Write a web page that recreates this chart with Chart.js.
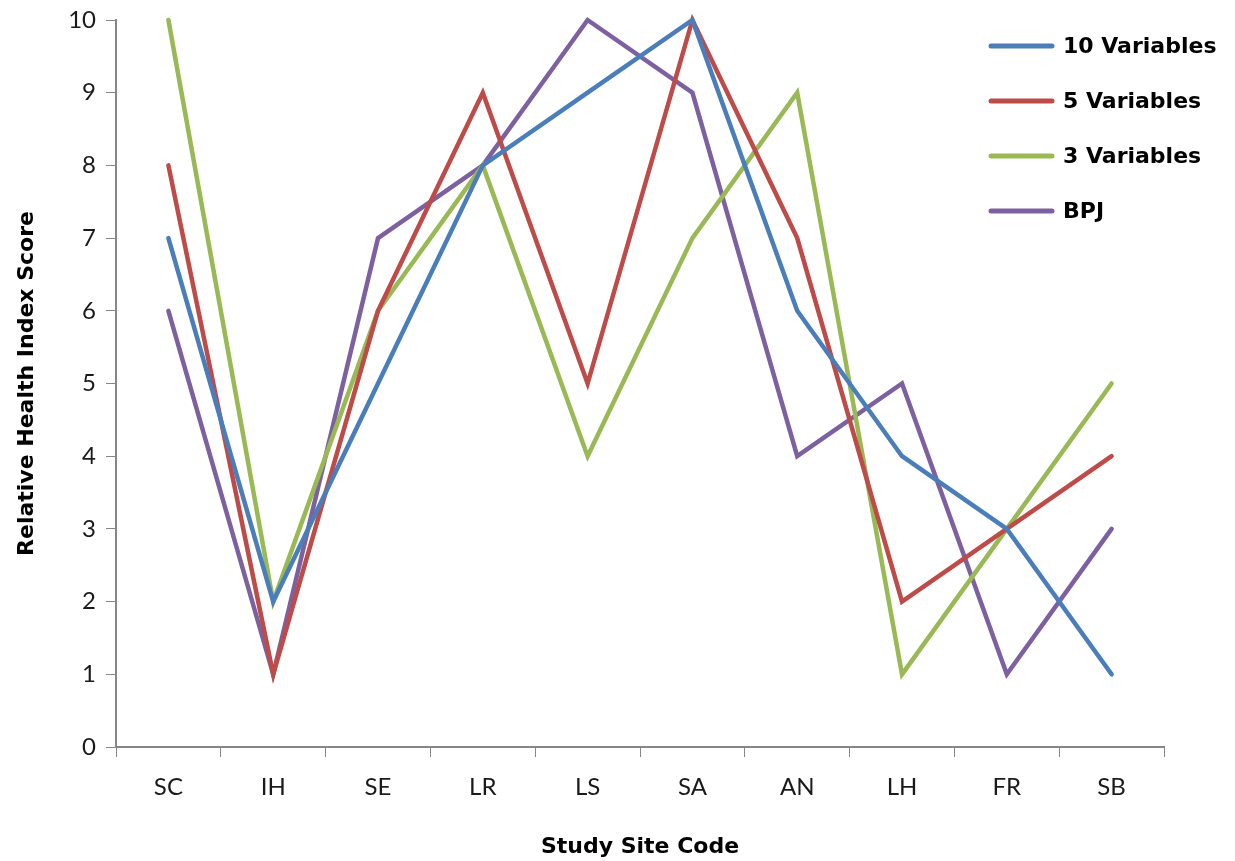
<!DOCTYPE html>
<html>
<head>
<meta charset="utf-8">
<script src="https://cdn.jsdelivr.net/npm/chart.js@4/dist/chart.umd.min.js"></script>
<style>
  html, body { margin: 0; padding: 0; background: #fff; }
  #wrap { width: 1235px; height: 861px; }
</style>
</head>
<body>
<div id="wrap"><canvas id="healthChart"></canvas></div>
<script>
// Relative health index scores per study site
var sites = ['SC', 'IH', 'SE', 'LR', 'LS', 'SA', 'AN', 'LH', 'FR', 'SB'];
var vars10 = [7, 2, 5, 8, 9, 10, 6, 4, 3, 1];
var vars5 = [8, 1, 6, 9, 5, 10, 7, 2, 3, 4];
var vars3 = [10, 2, 6, 8, 4, 7, 9, 1, 3, 5];
var bpj = [6, 1, 7, 8, 10, 9, 4, 5, 1, 3];
var yTicks = [0, 1, 2, 3, 4, 5, 6, 7, 8, 9, 10];

var axisGray = '#868686';
var tickFont = { family: 'Lato, "Open Sans", sans-serif', size: 24 };
var boldFont = { family: '"DejaVu Sans", sans-serif', size: 22, weight: 'bold' };

// legend drawn inside the plot area, top right
var insideLegend = {
    id: 'insideLegend',
    afterDraw: function (chart) {
        var ctx = chart.ctx;
        ctx.save();
        ctx.font = 'bold 22px "DejaVu Sans", sans-serif';
        ctx.textBaseline = 'middle';
        chart.data.datasets.forEach(function (ds, i) {
            var y = 46 + i * 55;
            ctx.strokeStyle = ds.borderColor;
            ctx.lineWidth = 5;
            ctx.lineCap = 'round';
            ctx.beginPath();
            ctx.moveTo(991, y);
            ctx.lineTo(1052, y);
            ctx.stroke();
            ctx.fillStyle = '#000';
            ctx.fillText(ds.label, 1063, y + 1);
        });
        ctx.restore();
    }
};

var ctx = document.getElementById('healthChart').getContext('2d');
var healthChart = new Chart(ctx, {
    type: 'line',
    data: {
        labels: sites,
        datasets: [
            { label: '10 Variables', data: vars10, borderColor: '#4A7EBB' },
            { label: '5 Variables', data: vars5, borderColor: '#BE4B48' },
            { label: '3 Variables', data: vars3, borderColor: '#98B954' },
            { label: 'BPJ', data: bpj, borderColor: '#7D60A0' }
        ]
    },
    options: {
        responsive: true,
        maintainAspectRatio: false,
        animation: false,
        datasets: {
            line: { clip: false }
        },
        elements: {
            line: { borderWidth: 4.5, tension: 0, borderCapStyle: 'round', borderJoinStyle: 'miter' },
            point: { radius: 0 }
        },
        layout: { padding: { top: 0, right: 71, bottom: 0, left: 0 } },
        scales: {
            x: {
                offset: true,
                afterFit: function (axis) { axis.height = 114; },
                grid: {
                    offset: true,
                    drawOnChartArea: false,
                    drawTicks: true,
                    tickLength: 10,
                    color: axisGray,
                    tickColor: axisGray
                },
                border: { color: axisGray, width: 2 },
                ticks: { color: '#1a1a1a', font: tickFont, padding: 16 },
                title: {
                    display: true,
                    text: 'Study Site Code',
                    color: '#000',
                    font: boldFont,
                    padding: { top: 0, bottom: 1 }
                }
            },
            y: {
                min: 0,
                max: 10,
                afterFit: function (axis) {
                    axis.width = 116;
                    axis.paddingTop = 20;
                },
                afterBuildTicks: function (axis) {
                    axis.ticks = yTicks.map(function (v) { return { value: v }; });
                },
                grid: {
                    drawOnChartArea: false,
                    drawTicks: true,
                    tickLength: 10,
                    color: axisGray,
                    tickColor: axisGray
                },
                border: { color: axisGray, width: 2 },
                ticks: { color: '#1a1a1a', font: tickFont, padding: 10 },
                title: {
                    display: true,
                    text: 'Relative Health Index Score',
                    color: '#000',
                    font: boldFont,
                    padding: { top: 14, bottom: 0 }
                }
            }
        },
        plugins: {
            legend: { display: false },
            tooltip: { enabled: false }
        }
    },
    plugins: [insideLegend]
});
</script>
</body>
</html>
